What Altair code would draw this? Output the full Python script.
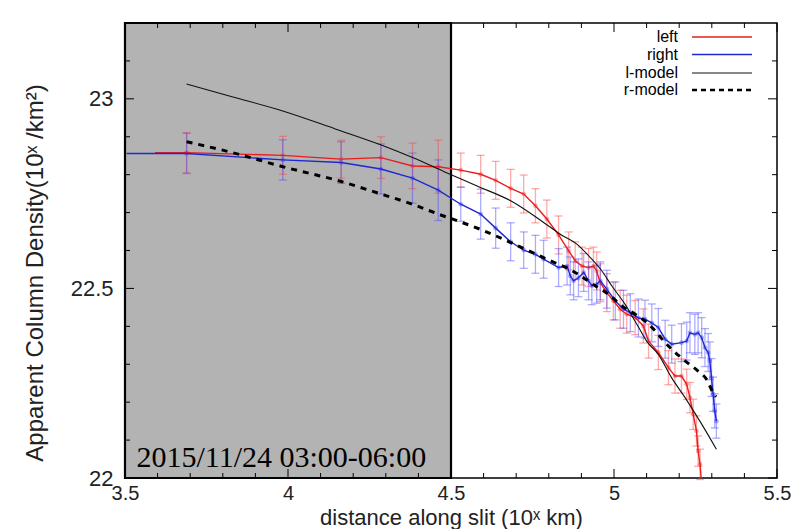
import altair as alt
import pandas as pd

# ---------------- data ----------------
left_x = [3.592, 3.689, 3.984, 4.163, 4.285, 4.382, 4.461, 4.530, 4.591, 4.637,
          4.683, 4.723, 4.759, 4.794, 4.830, 4.861, 4.881, 4.902, 4.922, 4.937,
          4.947, 4.958, 4.978, 4.998, 5.019, 5.039, 5.065, 5.090, 5.106, 5.136,
          5.167, 5.187, 5.207, 5.223, 5.233, 5.243, 5.253, 5.258, 5.264, 5.270]
left_y = [22.858, 22.858, 22.851, 22.841, 22.845, 22.823, 22.821, 22.812, 22.801, 22.785,
          22.764, 22.749, 22.718, 22.683, 22.641, 22.599, 22.573, 22.559, 22.555, 22.559,
          22.546, 22.515, 22.489, 22.467, 22.445, 22.432, 22.423, 22.401, 22.361, 22.331,
          22.291, 22.269, 22.269, 22.247, 22.212, 22.168, 22.124, 22.071, 22.036, 21.97]
left_err = [0.0, 0.053, 0.05, 0.05, 0.055, 0.06, 0.07, 0.045, 0.05, 0.05,
            0.05, 0.05, 0.045, 0.05, 0.05, 0.05, 0.05, 0.05, 0.05, 0.05,
            0.05, 0.05, 0.05, 0.05, 0.05, 0.05, 0.045, 0.045, 0.045, 0.045,
            0.045, 0.045, 0.045, 0.04, 0.04, 0.04, 0.04, 0.04, 0.04, 0.0]

right_x = [3.505, 3.689, 3.984, 4.163, 4.285, 4.382, 4.461, 4.530, 4.591, 4.637,
           4.683, 4.723, 4.759, 4.784, 4.830, 4.856, 4.866, 4.876, 4.891, 4.907,
           4.922, 4.932, 4.947, 4.958, 4.978, 5.004, 5.029, 5.050, 5.075, 5.095,
           5.116, 5.136, 5.157, 5.177, 5.207, 5.223, 5.233, 5.248, 5.258, 5.269,
           5.279, 5.289, 5.294, 5.299, 5.304, 5.309, 5.314]
right_y = [22.856, 22.856, 22.839, 22.832, 22.815, 22.791, 22.759, 22.722, 22.696, 22.659,
           22.623, 22.601, 22.590, 22.577, 22.555, 22.559, 22.533, 22.520, 22.528, 22.542,
           22.520, 22.507, 22.511, 22.520, 22.498, 22.467, 22.445, 22.436, 22.422, 22.419,
           22.409, 22.397, 22.366, 22.353, 22.357, 22.361, 22.383, 22.379, 22.383, 22.370,
           22.344, 22.331, 22.309, 22.265, 22.221, 22.177, 22.150]
right_err = [0.0, 0.053, 0.053, 0.055, 0.066, 0.066, 0.08, 0.045, 0.066, 0.053,
             0.05, 0.048, 0.05, 0.05, 0.05, 0.05, 0.05, 0.05, 0.05, 0.05,
             0.05, 0.05, 0.05, 0.05, 0.05, 0.05, 0.05, 0.05, 0.05, 0.05,
             0.05, 0.05, 0.05, 0.05, 0.05, 0.05, 0.053, 0.053, 0.053, 0.053,
             0.05, 0.05, 0.05, 0.05, 0.045, 0.045, 0.045]

lmodel_x = [3.689, 3.831, 3.984, 4.147, 4.280, 4.382, 4.479, 4.580, 4.683, 4.784,
            4.835, 4.886, 4.932, 4.963, 4.993, 5.034, 5.075, 5.100, 5.136, 5.177,
            5.218, 5.269, 5.314]
lmodel_y = [23.039, 23.005, 22.968, 22.920, 22.880, 22.845, 22.808, 22.770, 22.731, 22.674,
            22.643, 22.617, 22.577, 22.546, 22.507, 22.458, 22.398, 22.361, 22.326, 22.264,
            22.212, 22.142, 22.076]

rmodel_x = [3.689, 3.830, 3.984, 4.163, 4.285, 4.382, 4.461, 4.514, 4.601, 4.683,
            4.784, 4.891, 4.942, 4.983, 5.024, 5.065, 5.106, 5.167, 5.218, 5.258,
            5.284, 5.304, 5.313]
rmodel_y = [22.887, 22.858, 22.821, 22.782, 22.749, 22.722, 22.696, 22.680, 22.652, 22.621,
            22.581, 22.537, 22.507, 22.485, 22.454, 22.432, 22.406, 22.348, 22.309, 22.282,
            22.260, 22.225, 22.214]

shade_x = [3.5, 4.5]
x_domain = [3.5, 5.5]
y_domain = [22.0, 23.2]
x_major = [3.5, 4.0, 4.5, 5.0, 5.5]
y_major = [22.0, 22.5, 23.0]
x_minor = [3.6, 3.7, 3.8, 3.9, 4.1, 4.2, 4.3, 4.4, 4.6, 4.7, 4.8, 4.9,
           5.1, 5.2, 5.3, 5.4]
y_minor = [22.1, 22.2, 22.3, 22.4, 22.6, 22.7, 22.8, 22.9, 23.1]
annot_text = ["2015/11/24 03:00-06:00"]
annot_pos = [3.535, 22.03]
legend_labels = ["left", "right", "l-model", "r-model"]

# ---------------- chart ----------------
W, H = 652, 455
xs = alt.Scale(domain=x_domain, nice=False, zero=False)
ys = alt.Scale(domain=y_domain, nice=False, zero=False)
xax = alt.Axis(values=x_major, title="distance along slit (10ˣ km)", tickSize=0,
               domain=False, grid=False, labelPadding=5, labelFlush=False,
               format="~g", titleY=39, titleBaseline="middle",
               labelFontSize=20, titleFontSize=22)
yax = alt.Axis(values=y_major, title="Apparent Column Density(10ˣ /km²)", tickSize=0,
               domain=False, grid=False, labelPadding=12, format="~g",
               titleX=-90, titleY=H / 2 + 22, titleAngle=270, titleAlign="center",
               titleBaseline="middle", labelFontSize=22, titleFontSize=24)


def X(f):
    return alt.X(f"{f}:Q", scale=xs, axis=xax)


def Y(f):
    return alt.Y(f"{f}:Q", scale=ys, axis=yax)


def series(xv, yv, ev=None):
    d = pd.DataFrame({"x": xv, "y": yv})
    if ev is not None:
        d["err"] = ev
        d["lo"] = d["y"] - d["err"]
        d["hi"] = d["y"] + d["err"]
    return d


dl = series(left_x, left_y, left_err)
dr = series(right_x, right_y, right_err)
dlm = series(lmodel_x, lmodel_y)
drm = series(rmodel_x, rmodel_y)

box = alt.Chart(pd.DataFrame({"x": [shade_x[0]], "x2": [shade_x[1]],
                              "y": [y_domain[0]], "y2": [y_domain[1]]})).mark_rect(
    fill="#b3b3b3", stroke="black", strokeWidth=2.2).encode(
    x=X("x"), x2="x2", y=Y("y"), y2="y2")


def errbars(d, color):
    d = d[d["err"] > 0]
    base = alt.Chart(d)
    bar = base.mark_rule(color=color, opacity=0.45, strokeWidth=1.3).encode(
        x=X("x"), y=Y("lo"), y2="hi")
    cap1 = base.mark_tick(color=color, opacity=0.45, size=8, thickness=1.3,
                          orient="horizontal").encode(x=X("x"), y=Y("lo"))
    cap2 = base.mark_tick(color=color, opacity=0.45, size=8, thickness=1.3,
                          orient="horizontal").encode(x=X("x"), y=Y("hi"))
    pts = base.mark_point(color=color, opacity=0.45, filled=True, size=22).encode(
        x=X("x"), y=Y("y"))
    return bar + cap1 + cap2 + pts


eb_left = errbars(dl, "#ff4040")
eb_right = errbars(dr, "#4a4aff")

line_left = alt.Chart(dl).mark_line(color="#e81e1e", strokeWidth=1.4, clip=True).encode(
    x=X("x"), y=Y("y"))
line_right = alt.Chart(dr).mark_line(color="#1e28d2", strokeWidth=1.4, clip=True).encode(
    x=X("x"), y=Y("y"))
line_lm = alt.Chart(dlm).mark_line(color="#111111", strokeWidth=1.1,
                                   interpolate="monotone").encode(x=X("x"), y=Y("y"))
line_rm = alt.Chart(drm).mark_line(color="black", strokeWidth=3, strokeDash=[6, 6],
                                   interpolate="monotone").encode(x=X("x"), y=Y("y"))

annot = alt.Chart(pd.DataFrame({"x": [annot_pos[0]], "y": [annot_pos[1]],
                                "t": annot_text})).mark_text(
    font="Liberation Serif", fontSize=30, align="left", baseline="alphabetic",
    color="black").encode(x=X("x"), y=Y("y"), text="t:N")

# ticks (gnuplot style, inside and mirrored)
tick_layers = []
for vals, ln in ((x_major, 9), (x_minor, 5)):
    dt = alt.Chart(pd.DataFrame({"t": vals}))
    tick_layers.append(dt.mark_rule(color="black", strokeWidth=1).encode(
        x=X("t"), y=alt.value(H), y2=alt.value(H - ln)))
    tick_layers.append(dt.mark_rule(color="black", strokeWidth=1).encode(
        x=X("t"), y=alt.value(0), y2=alt.value(ln)))
for vals, ln in ((y_major, 9), (y_minor, 5)):
    dt = alt.Chart(pd.DataFrame({"t": vals}))
    tick_layers.append(dt.mark_rule(color="black", strokeWidth=1).encode(
        y=Y("t"), x=alt.value(0), x2=alt.value(ln)))
    tick_layers.append(dt.mark_rule(color="black", strokeWidth=1).encode(
        y=Y("t"), x=alt.value(W), x2=alt.value(W - ln)))

# legend (labels left, line samples right)
leg_styles = [("#e81e1e", 1.4, None), ("#1e28d2", 1.4, None),
              ("#111111", 1.1, None), ("black", 2.5, [5, 4])]
leg_rows = [14, 31.5, 50, 67]
legend_layers = []
for lab, (col, sw, dash), ry in zip(legend_labels, leg_styles, leg_rows):
    legend_layers.append(alt.Chart(pd.DataFrame({"t": [lab]})).mark_text(
        align="right", baseline="middle", font="Liberation Sans", fontSize=16,
        color="black").encode(x=alt.value(553), y=alt.value(ry), text="t:N"))
    kw = dict(color=col, strokeWidth=sw)
    if dash:
        kw["strokeDash"] = dash
    legend_layers.append(alt.Chart(pd.DataFrame({"t": [lab]})).mark_rule(**kw).encode(
        x=alt.value(567), x2=alt.value(627), y=alt.value(ry)))

chart = alt.layer(
    box, eb_left, eb_right, line_left, line_right, line_lm, line_rm, annot,
    *tick_layers, *legend_layers
).properties(
    width=W, height=H,
    autosize=alt.AutoSizeParams(type="none"),
    padding={"left": 117, "top": 15, "right": 18, "bottom": 51},
    background="white",
).configure_view(
    stroke="black", strokeWidth=1.5
).configure_axis(
    labelFont="Liberation Sans", labelColor="#222222",
    titleFont="Liberation Sans", titleColor="#222222",
    titleFontWeight="normal"
)

chart.save("out.html", embed_options={"renderer": "svg", "actions": False})
